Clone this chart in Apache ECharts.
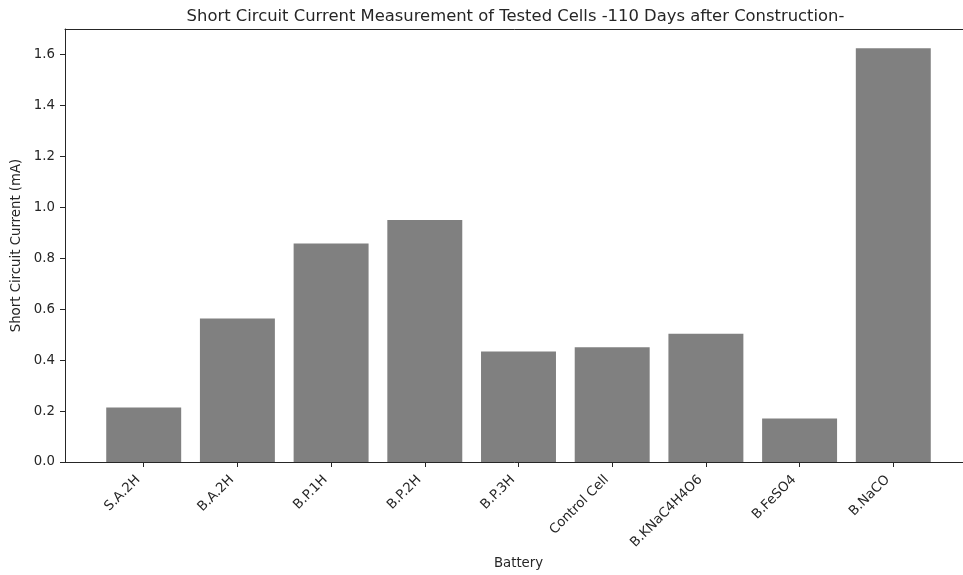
<!DOCTYPE html>
<html>
<head>
<meta charset="utf-8">
<script src="https://cdn.jsdelivr.net/npm/echarts@6/dist/echarts.min.js"></script>
<style>
  html, body { margin: 0; padding: 0; background: #fff; }
  #chart { width: 963px; height: 575px; }
</style>
</head>
<body>
<div id="chart"></div>
<script>
// Cells tested and their short circuit current (mA)
const batteries = ['S.A.2H', 'B.A.2H', 'B.P.1H', 'B.P.2H', 'B.P.3H', 'Control Cell', 'B.KNaC4H4O6', 'B.FeSO4', 'B.NaCO'];
const currents = [0.214, 0.563, 0.858, 0.950, 0.434, 0.451, 0.504, 0.171, 1.624];
const yTicks = [0.0, 0.2, 0.4, 0.6, 0.8, 1.0, 1.2, 1.4, 1.6];

const FONT = 'DejaVu Sans';
const INK = '#262626';
const TICK_SIZE = 13.3;
const LABEL_SIZE = 13.3;

// Plot box; the x range leaves the usual margin around the bars
const gridLeft = 65, gridTop = 29, gridWidth = 907, gridHeight = 433;
const xMin = -0.84, xMax = batteries.length - 1 + 0.84;
const yMax = 1.70;
const barPx = gridWidth / (xMax - xMin) * 0.8;

const xIdx = batteries.map((_, i) => i);

const chart = echarts.init(document.getElementById('chart'), null, { renderer: 'canvas' });
chart.setOption({
  animation: false,
  backgroundColor: '#fff',
  title: {
    text: 'Short Circuit Current Measurement of Tested Cells -110 Days after Construction-',
    left: gridLeft + gridWidth / 2 - 8,
    textAlign: 'center',
    top: 4,
    textStyle: { fontFamily: FONT, fontSize: 16.4, fontWeight: 'normal', color: INK }
  },
  grid: {
    left: gridLeft, top: gridTop, width: gridWidth, height: gridHeight,
    containLabel: false,
    outerBoundsMode: 'none'
  },
  xAxis: [{
    type: 'value',
    min: xMin,
    max: xMax,
    name: 'Battery',
    nameLocation: 'middle',
    nameGap: 95,
    nameTextStyle: { fontFamily: FONT, fontSize: LABEL_SIZE, color: INK },
    axisLine: { show: true, onZero: false, lineStyle: { color: INK, width: 1 } },
    axisTick: { show: true, length: 5, customValues: xIdx, lineStyle: { color: INK } },
    axisLabel: {
      customValues: xIdx,
      rotate: 45,
      margin: 10,
      padding: [0, 8, 0, 0],
      fontFamily: FONT, fontSize: TICK_SIZE, color: INK,
      formatter: v => batteries[Math.round(v)] || ''
    },
    splitLine: { show: false }
  }, {
    // top frame line
    type: 'value',
    position: 'top',
    min: xMin,
    max: xMax,
    axisLine: { show: true, onZero: false, lineStyle: { color: INK, width: 1 } },
    axisTick: { show: false },
    axisLabel: { show: false },
    splitLine: { show: false }
  }],
  yAxis: {
    type: 'value',
    min: 0,
    max: yMax,
    name: 'Short Circuit Current (mA)',
    nameLocation: 'middle',
    nameGap: 39,
    nameTextStyle: { fontFamily: FONT, fontSize: LABEL_SIZE, color: INK },
    axisLine: { show: true, onZero: false, lineStyle: { color: INK, width: 1 } },
    axisTick: { show: true, length: 5, customValues: yTicks, lineStyle: { color: INK } },
    axisLabel: {
      customValues: yTicks,
      margin: 10,
      fontFamily: FONT, fontSize: TICK_SIZE, color: INK,
      formatter: v => v.toFixed(1)
    },
    splitLine: { show: false }
  },
  series: [{
    type: 'bar',
    xAxisIndex: 0,
    barWidth: barPx,
    itemStyle: { color: '#808080' },
    data: xIdx.map(i => [i, currents[i]])
  }]
});
</script>
</body>
</html>
